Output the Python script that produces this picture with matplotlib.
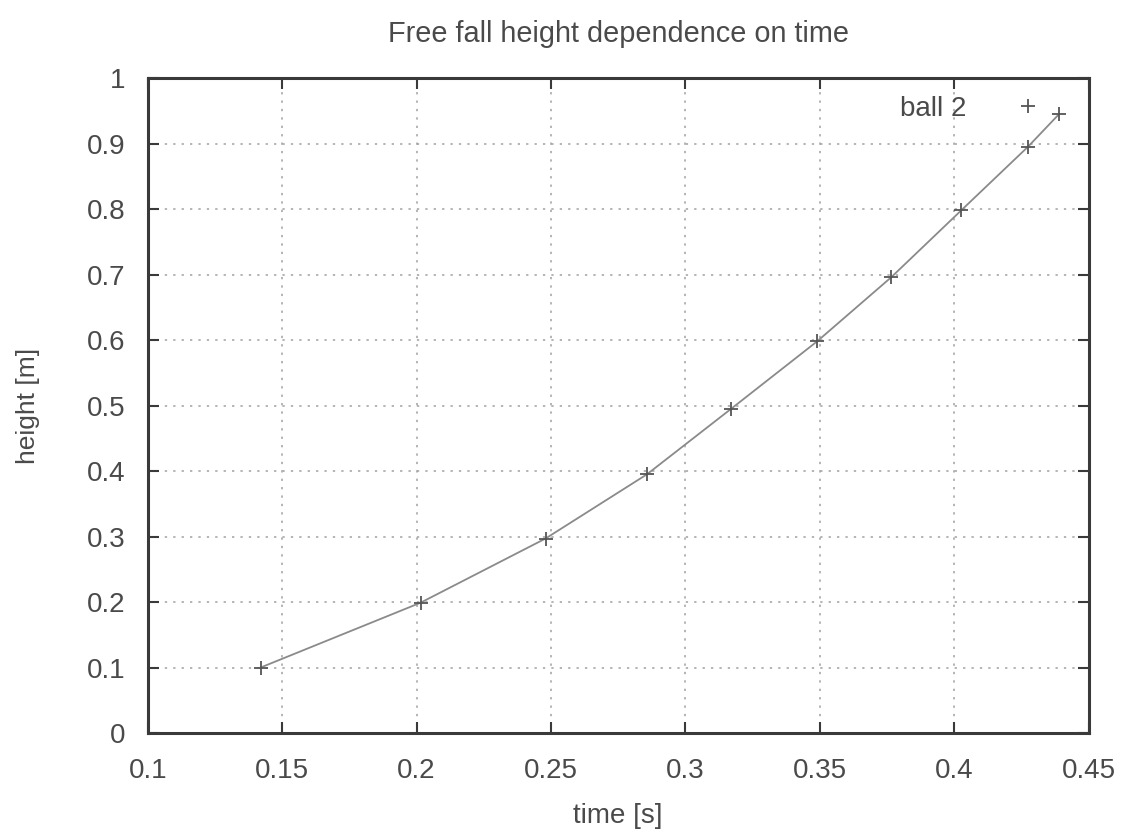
import matplotlib
matplotlib.use("Agg")
import matplotlib.pyplot as plt
from matplotlib.ticker import FixedLocator, FixedFormatter

# Data
time_s = [0.142, 0.2015, 0.248, 0.2857, 0.317, 0.349, 0.3766, 0.4026, 0.4274, 0.439]
height_m = [0.100, 0.199, 0.297, 0.395, 0.495, 0.598, 0.696, 0.798, 0.895, 0.945]

x_ticks = [0.1, 0.15, 0.2, 0.25, 0.3, 0.35, 0.4, 0.45]
x_tick_labels = ["0.1", "0.15", "0.2", "0.25", "0.3", "0.35", "0.4", "0.45"]
y_ticks = [0, 0.1, 0.2, 0.3, 0.4, 0.5, 0.6, 0.7, 0.8, 0.9, 1]
y_tick_labels = ["0", "0.1", "0.2", "0.3", "0.4", "0.5", "0.6", "0.7", "0.8", "0.9", "1"]

title = "Free fall height dependence on time"
x_label = "time [s]"
y_label = "height [m]"
series_name = "ball 2"

plt.rcParams['font.family'] = ['Liberation Sans', 'DejaVu Sans']

fig = plt.figure(figsize=(11.28, 8.32), dpi=100)
ax = fig.add_axes([0.131, 0.119, 0.834, 0.787])

text_col = "#4a4a4a"
axis_col = "#3a3a3a"

ax.plot(time_s, height_m, color="#8a8a8a", lw=1.3, zorder=3)
ax.plot(time_s, height_m, ls="none", marker="+", ms=10, mew=1.3,
        color="#555555", label=series_name, zorder=4)

ax.set_xlim(0.1, 0.45)
ax.set_ylim(0, 1)
ax.xaxis.set_major_locator(FixedLocator(x_ticks))
ax.xaxis.set_major_formatter(FixedFormatter(x_tick_labels))
ax.yaxis.set_major_locator(FixedLocator(y_ticks))
ax.yaxis.set_major_formatter(FixedFormatter(y_tick_labels))

ax.grid(True, ls=(0, (1.5, 4)), color="#a0a0a0", lw=1.1)
ax.tick_params(direction="in", length=8, width=1.5, colors=axis_col,
               labelcolor=text_col, labelsize=20, top=True, right=True)
ax.tick_params(axis="x", pad=18)
ax.tick_params(axis="y", pad=16)
for s in ax.spines.values():
    s.set_color(axis_col)
    s.set_linewidth(2.2)

ax.set_title(title, fontsize=20.8, color=text_col, pad=26)
ax.set_xlabel(x_label, fontsize=20, color=text_col, labelpad=14)
ax.set_ylabel(y_label, fontsize=19, color=text_col, labelpad=34)

leg = ax.legend(loc="upper right", bbox_to_anchor=(0.99, 0.99),
                markerfirst=False, frameon=False,
                fontsize=20, labelcolor=text_col, handletextpad=0.75,
                borderaxespad=0.0, handlelength=2.9)

fig.savefig("out.png", dpi=100, facecolor="white")
